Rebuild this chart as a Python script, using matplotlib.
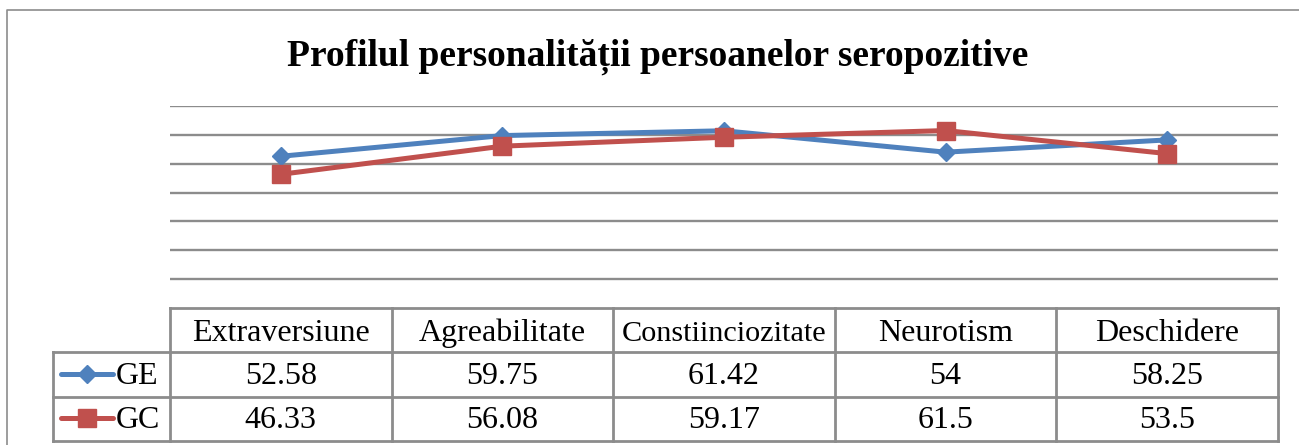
import matplotlib
matplotlib.use("Agg")
import matplotlib.pyplot as plt
import numpy as np

# data
categories = ["Extraversiune", "Agreabilitate", "Constiinciozitate", "Neurotism", "Deschidere"]
ge = [52.58, 59.75, 61.42, 54, 58.25]
gc = [46.33, 56.08, 59.17, 61.5, 53.5]
ge_labels = ["52.58", "59.75", "61.42", "54", "58.25"]
gc_labels = ["46.33", "56.08", "59.17", "61.5", "53.5"]
title = "Profilul personalității persoanelor seropozitive"

W, H = 1299, 445
blue = "#4F81BD"
red = "#C0504D"
grey = "#8C8C8C"
serif = ["Liberation Serif", "DejaVu Serif"]

fig = plt.figure(figsize=(W / 100, H / 100), dpi=100)

# overlay axes in pixel coords for frame and table
ov = fig.add_axes([0, 0, 1, 1])
ov.set_xlim(0, W)
ov.set_ylim(H, 0)
ov.axis("off")

# chart frame (clipped at right/bottom like the screenshot)
ov.plot([7, 7, W], [H, 10, 10], color=grey, lw=1.2)

# plot area
x0, x1 = 170, 1278
y_top, y_bot = 106, 308
ax = fig.add_axes([x0 / W, (H - y_bot) / H, (x1 - x0) / W, (y_bot - y_top) / H])
ax.patch.set_alpha(0)
n = len(categories)
x = np.arange(n)
ax.set_xlim(-0.5, n - 0.5)
ax.set_ylim(0, 70)
for s in ax.spines.values():
    s.set_visible(False)
ax.set_xticks([])
ax.set_yticks([])
for g in range(10, 71, 10):
    ax.axhline(g, color=grey, lw=1.7, zorder=1)

ax.plot(x, ge, color=blue, lw=3.6, marker="D", ms=9.5, zorder=3)
ax.plot(x, gc, color=red, lw=3.6, marker="s", ms=13.5, zorder=4)

fig.text(658 / W, 1 - 66 / H, title, ha="center", va="baseline",
         fontsize=27, fontweight="bold", family=serif)

# data table
col_w = (x1 - x0) / n
edges = [x0 + i * col_w for i in range(n + 1)]
r0, r1, r2, r3 = 308, 352, 397, 441
lx = 53
lw_t = 2.0
ov.plot([x0, x1], [r0, r0], color=grey, lw=lw_t)
ov.plot([lx, x1], [r1, r1], color=grey, lw=lw_t)
ov.plot([lx, x1], [r2, r2], color=grey, lw=lw_t)
ov.plot([lx, x1], [r3, r3], color=grey, lw=lw_t)
ov.plot([lx, lx], [r1, r3], color=grey, lw=lw_t)
for e in edges:
    ov.plot([e, e], [r0, r3], color=grey, lw=lw_t)

fs = 23
for i, c in enumerate(categories):
    cx = (edges[i] + edges[i + 1]) / 2
    hs = 21.8 if len(c) > 15 else fs
    ov.text(cx, 341, c, ha="center", va="baseline", fontsize=hs, family=serif)
    ov.text(cx, 384, ge_labels[i], ha="center", va="baseline", fontsize=fs, family=serif)
    ov.text(cx, 428, gc_labels[i], ha="center", va="baseline", fontsize=fs, family=serif)

# legend keys inside the table
ov.plot([61, 113], [374, 374], color=blue, lw=3.6, solid_capstyle="round")
ov.plot([87], [374], marker="D", color=blue, ms=9.5)
ov.plot([61, 113], [418, 418], color=red, lw=3.6, solid_capstyle="round")
ov.plot([87], [418], marker="s", color=red, ms=13.5)
ov.text(116, 384, "GE", ha="left", va="baseline", fontsize=fs, family=serif)
ov.text(116, 428, "GC", ha="left", va="baseline", fontsize=fs, family=serif)

fig.savefig("out.png", dpi=100)
